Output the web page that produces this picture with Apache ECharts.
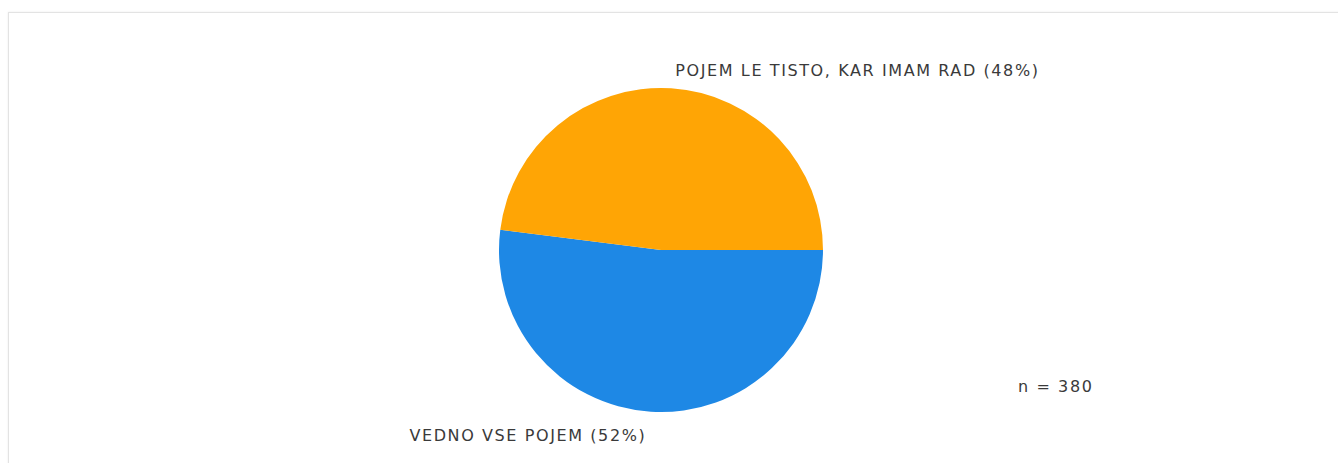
<!DOCTYPE html>
<html>
<head>
<meta charset="utf-8">
<title>Pie</title>
<script src="https://cdn.jsdelivr.net/npm/echarts@6/dist/echarts.min.js"></script>
<style>
  html, body { margin: 0; padding: 0; width: 1338px; height: 463px; overflow: hidden; background: #fff; }
  #frame {
    position: absolute; left: 8px; top: 12px; width: 1360px; height: 480px;
    border: 1px solid #e3e3e3; box-shadow: 0 0 2px rgba(0,0,0,0.08); box-sizing: border-box;
  }
  #chart { position: absolute; left: 0; top: 0; width: 1338px; height: 463px; }
  #chart text { letter-spacing: 1.6px; }
</style>
</head>
<body>
<div id="frame"></div>
<div id="chart"></div>
<script>
// Answers and their shares (percent)
const categories = ['VEDNO VSE POJEM', 'POJEM LE TISTO, KAR IMAM RAD'];
const shares = [52, 48];
const sliceColors = ['#1e88e5', '#ffa505'];
const sampleSize = 380;

const chart = echarts.init(document.getElementById('chart'), null, { renderer: 'svg' });

const labelLineLengths = [24, 18];

const option = {
  animation: false,
  textStyle: { fontFamily: 'DejaVu Sans', fontSize: 16, color: '#3a3a3a' },
  series: [{
    type: 'pie',
    center: [661, 250],
    radius: 162,
    startAngle: 0,
    clockwise: true,
    silent: true,
    data: categories.map((name, i) => ({
      name,
      value: shares[i],
      itemStyle: { color: sliceColors[i] },
      labelLine: { show: false, length: labelLineLengths[i], length2: 0 }
    })),
    label: {
      show: true,
      position: 'outside',
      formatter: '{b} ({c}%)',
      fontFamily: 'DejaVu Sans',
      fontSize: 16,
      color: '#3a3a3a',
      distanceToLabelLine: 3
    },
    labelLine: { show: false },
    avoidLabelOverlap: false
  }],
  graphic: [{
    type: 'text',
    left: 1018,
    top: 378,
    style: {
      text: 'n = ' + sampleSize,
      font: '16px "DejaVu Sans"',
      fill: '#3a3a3a'
    }
  }]
};

chart.setOption(option);
</script>
</body>
</html>
